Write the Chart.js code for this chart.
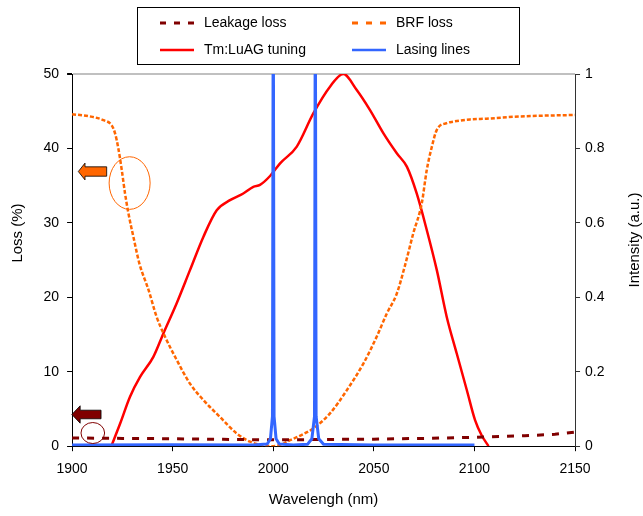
<!DOCTYPE html>
<html>
<head>
<meta charset="utf-8">
<title>Loss and intensity vs wavelength</title>
<script src="https://cdn.jsdelivr.net/npm/chart.js@4.4.1/dist/chart.umd.min.js"></script>
<style>
  body { margin: 0; background: #fff; }
  #wrap { width: 643px; height: 516px; position: relative; }
</style>
</head>
<body>
<div id="wrap"><canvas id="lossChart"></canvas></div>
<script>
// axis ticks
var xTicks = [1900, 1950, 2000, 2050, 2100, 2150];
var lossTicks = [0, 10, 20, 30, 40, 50];
var intensityTicks = [0, 0.2, 0.4, 0.6, 0.8, 1];

var seriesNames = ['Leakage loss', 'BRF loss', 'Tm:LuAG tuning', 'Lasing lines'];

// Leakage loss (%)
var leakWl   = [1900, 1925, 1950, 1975, 2000, 2025, 2050, 2075, 2100, 2125, 2140, 2150];
var leakLoss = [1.1, 1.05, 1.0, 0.92, 0.85, 0.9, 0.95, 1.05, 1.2, 1.4, 1.6, 1.9];

// BRF loss (%)
var brfWl   = [1900, 1909, 1915.6, 1919.7, 1921.4, 1923, 1924.7, 1926.3, 1928, 1930.5, 1933.5, 1938, 1942, 1946.2, 1952, 1958.6, 1965.3, 1973.6, 1981.9, 1988.5, 1995, 2000, 2004, 2008.3, 2014, 2020, 2028.2, 2036.5, 2044.8, 2051.4, 2056.4, 2061.4, 2065.5, 2069.6, 2073.8, 2076.3, 2078.8, 2081.3, 2086.2, 2089.5, 2097.8, 2106, 2122.7, 2150];
var brfLoss = [44.6, 44.3, 43.8, 43.1, 42.0, 40.0, 37.1, 34.0, 31.3, 28.1, 24.5, 21.0, 17.4, 14.7, 11.6, 8.4, 6.2, 3.9, 1.7, 0.6, 0.1, 0.0, 0.2, 0.8, 1.5, 2.4, 4.4, 7.5, 11.1, 14.7, 17.8, 20.5, 24.3, 28.6, 32.6, 37.1, 40.2, 42.5, 43.4, 43.6, 43.9, 44.0, 44.3, 44.5];

// Tm:LuAG tuning (a.u.)
var tmWl = [1919.5, 1923.9, 1928.8, 1933.8, 1940.4, 1945.4, 1952, 1958.6, 1965.3, 1971.9, 1978.5, 1985.1, 1990.1, 1993.4, 1998.4, 2003.4, 2011.7, 2019.9, 2028.2, 2034.8, 2041.5, 2048.1, 2054.7, 2061.4, 2066.4, 2071.3, 2076.3, 2081.3, 2086.2, 2091.2, 2096.2, 2100.3, 2103.5, 2107];
var tmIntensity = [0, 0.061, 0.133, 0.186, 0.24, 0.303, 0.384, 0.473, 0.563, 0.634, 0.661, 0.679, 0.697, 0.702, 0.726, 0.76, 0.805, 0.894, 0.966, 1.0, 0.957, 0.903, 0.841, 0.787, 0.751, 0.679, 0.581, 0.473, 0.348, 0.249, 0.151, 0.07, 0.03, 0];

// Lasing lines (a.u.)
var lasWl = [1900, 1950, 1990, 1997, 1998.6, 1999.6, 2000, 2000.4, 2001.4, 2003, 2010, 2017, 2019.2, 2020.5, 2020.9, 2021.3, 2022.6, 2025, 2050, 2100];
var lasIntensity = [0.003, 0.004, 0.003, 0.006, 0.02, 0.08, 1.3, 0.08, 0.02, 0.006, 0.003, 0.005, 0.02, 0.08, 1.3, 0.08, 0.02, 0.005, 0.003, 0.003];

function toPoints(xs, ys) {
	return xs.map(function(x, i) { return { x: x, y: ys[i] }; });
}

function fixedTicks(list) {
	return function(axis) {
		axis.ticks = list.map(function(v) { return { value: v }; });
	};
}

var FONT = 'Liberation Sans, Arial, sans-serif';

// legend in a box, two columns
var boxLegend = {
	id: 'boxLegend',
	afterDraw: function(chart, args, opts) {
		var ctx = chart.ctx;
		ctx.save();
		ctx.strokeStyle = '#000';
		ctx.lineWidth = 1;
		ctx.strokeRect(opts.box[0] + 0.5, opts.box[1] + 0.5, opts.box[2], opts.box[3]);
		ctx.font = '14px ' + FONT;
		ctx.textBaseline = 'middle';
		ctx.textAlign = 'left';
		chart.data.datasets.forEach(function(ds, i) {
			var x = opts.cols[i % 2];
			var y = opts.rows[Math.floor(i / 2)];
			ctx.beginPath();
			ctx.strokeStyle = ds.borderColor;
			ctx.lineWidth = ds.borderDash ? 3 : 2.5;
			ctx.setLineDash(ds.borderDash ? [6, 8] : []);
			ctx.moveTo(x, y);
			ctx.lineTo(x + 34, y);
			ctx.stroke();
			ctx.setLineDash([]);
			ctx.fillStyle = '#000';
			ctx.fillText(ds.label, x + 44, y);
		});
		ctx.restore();
	}
};

// rotated y axis titles (both read bottom to top)
var sideTitles = {
	id: 'sideTitles',
	afterDraw: function(chart, args, opts) {
		var ctx = chart.ctx;
		ctx.save();
		ctx.font = '15px ' + FONT;
		ctx.fillStyle = '#000';
		ctx.textAlign = 'center';
		ctx.textBaseline = 'middle';
		opts.items.forEach(function(t) {
			ctx.save();
			ctx.translate(t.x, t.y);
			ctx.rotate(-Math.PI / 2);
			ctx.fillText(t.text, 0, 0);
			ctx.restore();
		});
		ctx.restore();
	}
};

// arrows and rings pointing at the loss axis
var callouts = {
	id: 'callouts',
	afterDatasetsDraw: function(chart, args, opts) {
		var ctx = chart.ctx;
		var xs = chart.scales.x, ys = chart.scales.y;
		ctx.save();
		opts.rings.forEach(function(r) {
			ctx.beginPath();
			ctx.strokeStyle = r.color;
			ctx.lineWidth = 1;
			ctx.ellipse(xs.getPixelForValue(r.x), ys.getPixelForValue(r.y), r.rx, r.ry, 0, 0, Math.PI * 2);
			ctx.stroke();
		});
		opts.arrows.forEach(function(a) {
			var tx = xs.getPixelForValue(a.x);
			var ty = ys.getPixelForValue(a.y);
			var ex = xs.getPixelForValue(a.tail);
			var hb = tx + a.head;
			ctx.beginPath();
			ctx.moveTo(tx, ty);
			ctx.lineTo(hb, ty - a.headHalf);
			ctx.lineTo(hb, ty - a.bodyHalf);
			ctx.lineTo(ex, ty - a.bodyHalf);
			ctx.lineTo(ex, ty + a.bodyHalf);
			ctx.lineTo(hb, ty + a.bodyHalf);
			ctx.lineTo(hb, ty + a.headHalf);
			ctx.closePath();
			ctx.fillStyle = a.color;
			ctx.fill();
			ctx.strokeStyle = '#000';
			ctx.lineWidth = 0.8;
			ctx.stroke();
		});
		ctx.restore();
	}
};

var ctx = document.getElementById('lossChart').getContext('2d');
var myChart = new Chart(ctx, {
	type: 'line',
	data: {
		datasets: [{
			label: seriesNames[0],
			data: toPoints(leakWl, leakLoss),
			yAxisID: 'y',
			borderColor: '#800000',
			borderWidth: 3,
			borderDash: [7, 8],
			pointRadius: 0,
			order: 1
		}, {
			label: seriesNames[1],
			data: toPoints(brfWl, brfLoss),
			yAxisID: 'y',
			borderColor: '#ff6600',
			borderWidth: 2.5,
			borderDash: [4, 2],
			pointRadius: 0,
			cubicInterpolationMode: 'monotone',
			order: 2
		}, {
			label: seriesNames[2],
			data: toPoints(tmWl, tmIntensity),
			yAxisID: 'y1',
			borderColor: '#ff0000',
			borderWidth: 2.5,
			pointRadius: 0,
			cubicInterpolationMode: 'monotone',
			order: 3
		}, {
			label: seriesNames[3],
			data: toPoints(lasWl, lasIntensity),
			yAxisID: 'y1',
			borderColor: '#3366ff',
			borderWidth: 3,
			borderJoinStyle: 'round',
			pointRadius: 0,
			order: 0
		}]
	},
	options: {
		responsive: true,
		maintainAspectRatio: false,
		animation: false,
		layout: { padding: { top: 74, left: 35.5, right: 33.5, bottom: 0 } },
		plugins: {
			legend: { display: false },
			tooltip: { enabled: false },
			boxLegend: {
				box: [137, 7, 382, 57],
				cols: [160, 352],
				rows: [23, 50]
			},
			sideTitles: {
				items: [
					{ text: 'Loss (%)', x: 18, y: 233 },
					{ text: 'Intensity (a.u.)', x: 635, y: 240 }
				]
			},
			callouts: {
				rings: [
					{ x: 1928.6, y: 35.35, rx: 20.5, ry: 26.3, color: '#ff6600' },
					{ x: 1910.3, y: 1.77, rx: 11.8, ry: 10.5, color: '#800000' }
				],
				arrows: [
					{ x: 1903.1, y: 36.9, tail: 1917.2, head: 6.7, headHalf: 8.4, bodyHalf: 4.7, color: '#ff6600' },
					{ x: 1899.9, y: 4.26, tail: 1914.4, head: 8.3, headHalf: 8.7, bodyHalf: 4.3, color: '#800000' }
				]
			}
		},
		scales: {
			x: {
				type: 'linear',
				min: 1900,
				max: 2150,
				afterBuildTicks: fixedTicks(xTicks),
				border: { display: true, color: '#000', width: 1 },
				grid: { drawOnChartArea: false, tickLength: 5, tickColor: '#000' },
				ticks: {
					padding: 10,
					color: '#000',
					font: { family: FONT, size: 14 },
					callback: function(v) { return String(v); }
				},
				title: {
					display: true,
					text: 'Wavelengh (nm)',
					color: '#000',
					font: { family: FONT, size: 15 },
					padding: { top: 3, bottom: 7 }
				}
			},
			y: {
				position: 'left',
				min: 0,
				max: 50,
				afterBuildTicks: fixedTicks(lossTicks),
				border: { display: true, color: '#000', width: 1 },
				grid: {
					drawOnChartArea: true,
					tickLength: 5,
					tickColor: '#000',
					color: function(c) { return c.tick && c.tick.value === 50 ? '#c0c0c0' : 'rgba(0,0,0,0)'; },
					lineWidth: function(c) { return c.tick && c.tick.value === 50 ? 2 : 1; }
				},
				ticks: {
					padding: 8,
					color: '#000',
					font: { family: FONT, size: 14 },
					callback: function(v) { return String(v); }
				}
			},
			y1: {
				position: 'right',
				min: 0,
				max: 1,
				afterBuildTicks: fixedTicks(intensityTicks),
				border: { display: true, color: '#333', width: 1 },
				grid: { drawOnChartArea: false, tickLength: 5, tickColor: '#333' },
				ticks: {
					padding: 5,
					color: '#000',
					font: { family: FONT, size: 14 },
					callback: function(v) { return String(v); }
				}
			}
		}
	},
	plugins: [callouts, sideTitles, boxLegend]
});
</script>
</body>
</html>
